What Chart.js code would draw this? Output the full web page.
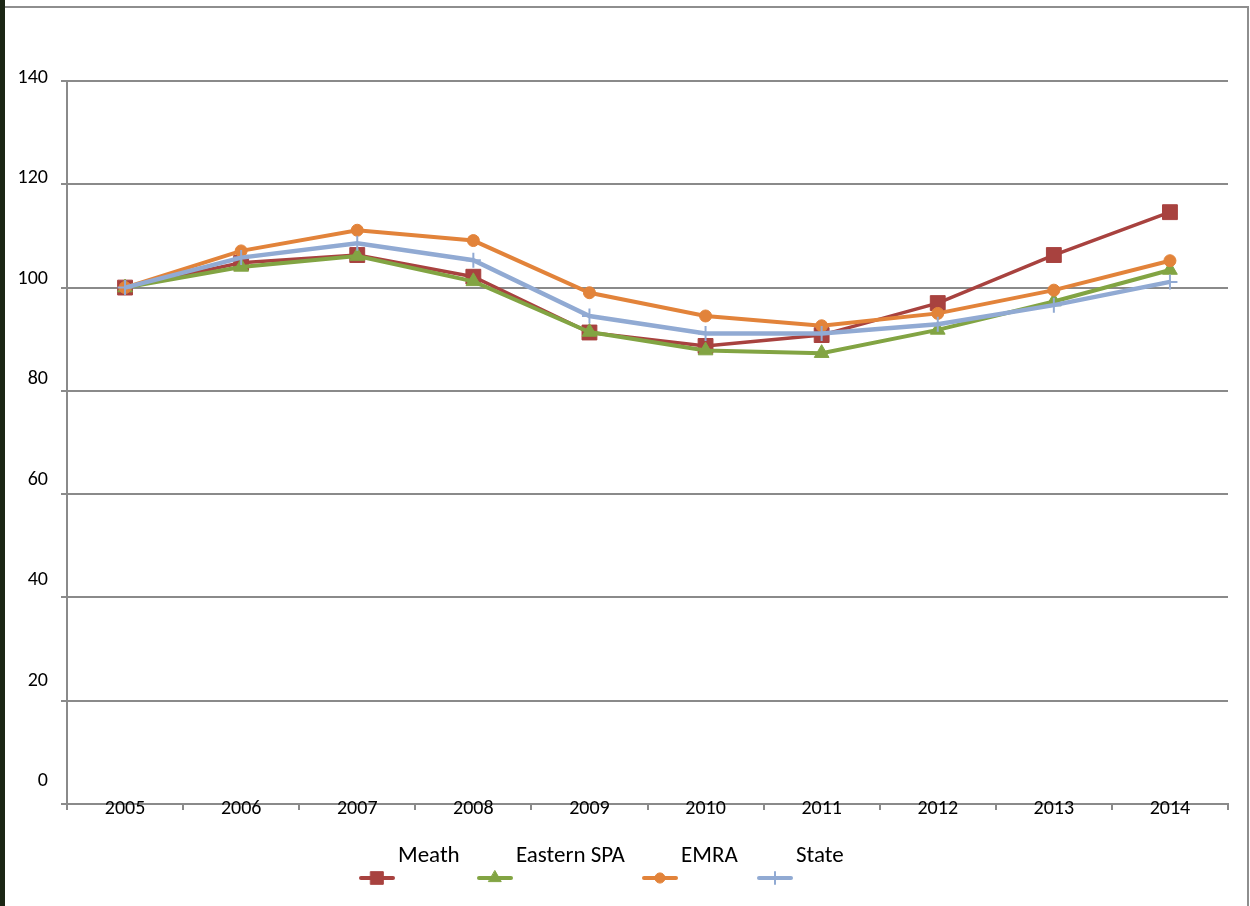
<!DOCTYPE html>
<html>
<head>
<meta charset="utf-8">
<script src="https://cdn.jsdelivr.net/npm/chart.js@4/dist/chart.umd.min.js"></script>
<style>
  html, body { margin: 0; padding: 0; background: #ffffff; }
  #wrap { position: relative; width: 1250px; height: 906px; overflow: hidden; }
  #chart { position: absolute; left: 0; top: 0; }
  .edge-left { position: absolute; left: 0; top: 0; width: 5px; height: 906px; background: #1b2614; }
  .edge-top { position: absolute; left: 5px; top: 6px; width: 1244px; height: 2px; background: #8e8e8e; }
  .edge-right { position: absolute; left: 1247px; top: 6px; width: 2px; height: 900px; background: #8e8e8e; }
</style>
</head>
<body>
<div id="wrap">
  <canvas id="chart" width="1250" height="906"></canvas>
  <div class="edge-left"></div>
  <div class="edge-top"></div>
  <div class="edge-right"></div>
</div>
<script>
// Index values, 2005 = 100
const years = ['2005', '2006', '2007', '2008', '2009', '2010', '2011', '2012', '2013', '2014'];
const meath = [100, 104.8, 106.3, 102.1, 91.3, 88.7, 90.8, 97.0, 106.3, 114.6];
const easternSPA = [100, 104.0, 106.1, 101.2, 91.4, 87.8, 87.3, 91.8, 97.3, 103.4];
const emra = [100, 107.1, 111.1, 109.1, 99.0, 94.5, 92.6, 95.0, 99.5, 105.2];
const state = [100, 105.8, 108.6, 105.3, 94.5, 91.1, 91.1, 92.9, 96.6, 101.1];
const seriesNames = ['Meath', 'Eastern SPA', 'EMRA', 'State'];
const yTickValues = [0, 20, 40, 60, 80, 100, 120, 140];
const yMin = 0, yMax = 140, yStep = 20;

const FONT = "Carlito, Calibri, Lato, sans-serif";
const GRID = '#8a8a8a';

function series(label, data, color, style, radius, lineWidth, order) {
  return {
    label, data,
    borderColor: color, backgroundColor: color,
    borderWidth: lineWidth,
    pointStyle: style, pointRadius: radius, pointHoverRadius: radius,
    pointBackgroundColor: color, pointBorderColor: color,
    pointBorderWidth: style === 'cross' ? 2 : 1,
    tension: 0, fill: false, order
  };
}

// Legend: each name sits above a short line sample carrying its marker
const legendStarts = [359, 477, 642, 757];
const stackedLegend = {
  id: 'stackedLegend',
  afterDraw(chart) {
    const ctx = chart.ctx;
    const lineY = 878, textY = 862, sample = 36;
    ctx.save();
    ctx.font = '23px ' + FONT;
    chart.data.datasets.forEach((ds, i) => {
      const x = legendStarts[i];
      ctx.strokeStyle = ds.borderColor;
      ctx.lineWidth = 4;
      ctx.lineCap = 'round';
      ctx.beginPath();
      ctx.moveTo(x + 2, lineY);
      ctx.lineTo(x + sample - 2, lineY);
      ctx.stroke();
      ctx.fillStyle = ds.backgroundColor;
      ctx.lineWidth = ds.pointBorderWidth;
      Chart.helpers.drawPoint(ctx, {
        pointStyle: ds.pointStyle,
        radius: ds.pointStyle === 'cross' ? 6 : ds.pointRadius * 0.85,
        borderWidth: ds.pointBorderWidth,
        rotation: 0
      }, x + sample / 2, lineY);
      ctx.fillStyle = '#000';
      ctx.textBaseline = 'alphabetic';
      ctx.textAlign = 'left';
      ctx.fillText(ds.label, x + sample + 3, textY);
    });
    ctx.restore();
  }
};

new Chart(document.getElementById('chart'), {
  type: 'line',
  data: {
    labels: years,
    datasets: [
      series(seriesNames[0], meath, '#A8423F', 'rect', 10.5, 3.5, 4),
      series(seriesNames[1], easternSPA, '#82A443', 'triangle', 8.5, 4, 3),
      series(seriesNames[2], emra, '#E2833A', 'circle', 6, 4, 2),
      series(seriesNames[3], state, '#91AAD3', 'cross', 7.5, 4.5, 1)
    ]
  },
  options: {
    responsive: false,
    animation: false,
    layout: { padding: { left: 5, top: 81, right: 22, bottom: 0 } },
    plugins: { legend: { display: false }, tooltip: { enabled: false } },
    scales: {
      x: {
        offset: true,
        afterFit(scale) { scale.height = 102; },
        grid: { offset: true, drawOnChartArea: false, drawTicks: true, tickLength: 6, color: GRID, lineWidth: 2 },
        border: { display: true, color: GRID, width: 2 },
        ticks: { color: '#000', font: { family: FONT, size: 20 }, mirror: true, padding: -17, maxRotation: 0 }
      },
      y: {
        min: yMin, max: yMax,
        weight: 0,
        afterFit(scale) { scale.width = 6; },
        grid: { color: GRID, lineWidth: 2, drawTicks: true, tickLength: 6 },
        border: { display: true, color: GRID, width: 2 },
        ticks: { stepSize: yStep, display: false }
      },
      // value labels for the vertical axis, set slightly tighter than the grid
      yl: {
        type: 'linear',
        position: 'left',
        weight: 1,
        min: -4.52, max: 139.4,
        afterFit(scale) { scale.width = 56; },
        afterBuildTicks(scale) { scale.ticks = yTickValues.map(v => ({ value: v })); },
        grid: { display: false },
        border: { display: false },
        ticks: { color: '#000', font: { family: FONT, size: 20 }, padding: 5, autoSkip: false }
      }
    }
  },
  plugins: [stackedLegend]
});
</script>
</body>
</html>
